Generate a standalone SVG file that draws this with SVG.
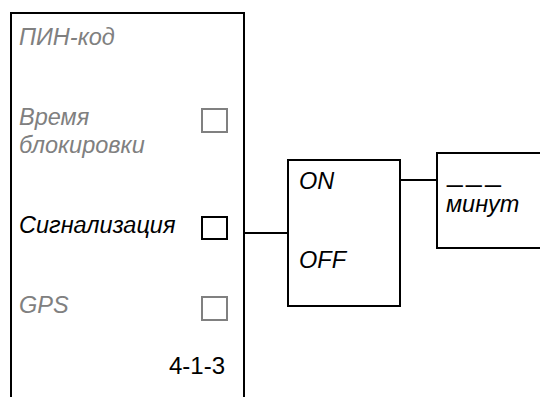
<svg xmlns="http://www.w3.org/2000/svg" width="540" height="397" viewBox="0 0 540 397">
<style>
text{font-family:"Liberation Sans",Arial,sans-serif;font-size:23.5px;font-style:italic}
.g{fill:#808080}
.k{fill:#000}
.box{fill:#fff;stroke:#000;stroke-width:2}
.cb{fill:#fff;stroke:#000;stroke-width:2}
.cbg{fill:#fff;stroke:#808080;stroke-width:2}
.ln{fill:none;stroke:#000;stroke-width:2}
</style>
<rect width="540" height="397" fill="#fff"/>
<g id="menu">
<path class="ln" d="M11,397 V13 H244 V397"/>
<text class="g" x="19" y="45">ПИН-код</text>
<text class="g" x="19" y="125">Время</text>
<text class="g" x="19" y="153">блокировки</text>
<rect class="cbg" x="202" y="109" width="25" height="23"/>
<text class="k" x="19" y="233">Сигнализация</text>
<rect class="cb" x="202" y="217" width="25" height="22"/>
<text class="g" x="19" y="313">GPS</text>
<rect class="cbg" x="202" y="297" width="25" height="23"/>
<text class="k" x="169" y="374" style="font-style:normal;font-size:24px">4-1-3</text>
</g>
<g id="connectors">
<path class="ln" d="M244,233 H288"/>
<path class="ln" d="M400,180 H437"/>
</g>
<g id="onoff">
<rect class="box" x="288" y="160" width="112" height="146"/>
<text class="k" x="299" y="189">ON</text>
<text class="k" x="299" y="268">OFF</text>
</g>
<g id="minutes">
<rect class="box" x="437" y="153" width="200" height="95"/>
<text class="k" x="447" y="181" style="font-size:28px;font-style:normal;letter-spacing:3.5px">___</text>
<text class="k" x="446" y="212">минут</text>
</g>
</svg>
